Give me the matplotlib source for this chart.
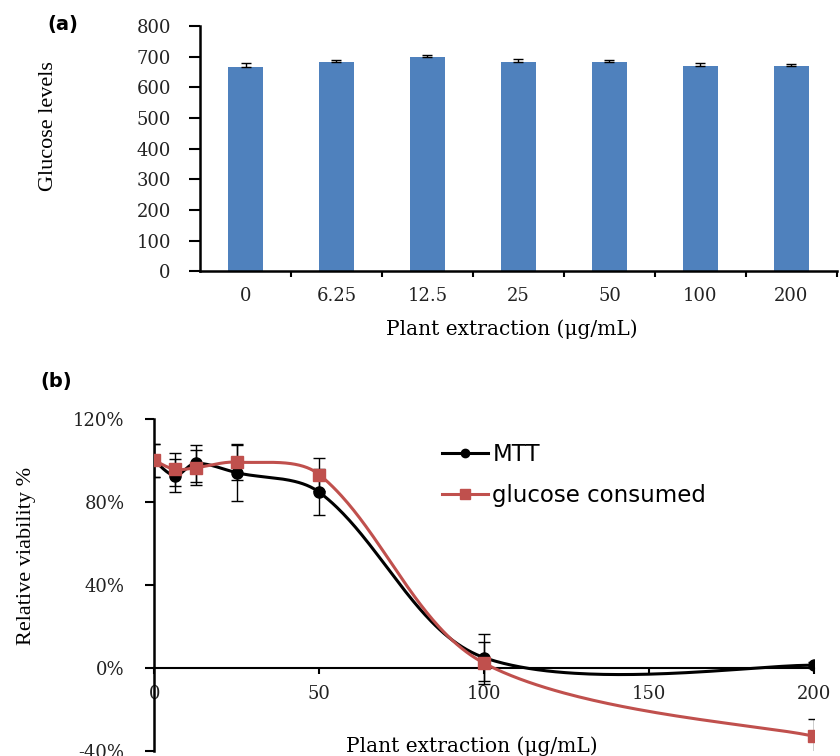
import numpy as np
import matplotlib
matplotlib.use("Agg")
import matplotlib.pyplot as plt
from matplotlib.ticker import FuncFormatter, FixedLocator
from matplotlib.lines import Line2D

plt.rcParams['axes.unicode_minus'] = False

# ---------------- data ----------------
conc_labels = ["0", "6.25", "12.5", "25", "50", "100", "200"]
glucose_levels = [665, 684, 700, 683, 683, 670, 670]
glucose_err = [16, 5, 7, 11, 5, 10, 6]

conc = [0, 6.25, 12.5, 25, 50, 100, 200]
mtt = [100, 92.7, 98.6, 94.1, 84.7, 5.0, 1.3]
mtt_err = [8, 8, 9, 13.5, 11, 11.2, 1.5]
glu = [100, 95.7, 96.5, 99.2, 93.2, 2.3, -32.9]
glu_err = [8, 8, 8.5, 8.5, 8, 10, 8.5]

BLUE = "#4F81BD"
RED = "#C0504D"
SERIF = "DejaVu Serif"


def smooth(ax, xs, ys, n=80):
    """Excel-like smoothed line: cubic Bezier segments, tangents scaled by
    on-screen segment lengths."""
    D = np.column_stack([xs, ys]).astype(float)
    P = ax.transData.transform(D)
    m = len(P)
    seglen = np.hypot(*(P[1:] - P[:-1]).T)
    out = []
    for i in range(m - 1):
        p1, p2 = P[i], P[i + 1]
        L = seglen[i]
        if i > 0:
            c1 = p1 + (p2 - P[i - 1]) * L / (seglen[i - 1] + L) / 3.0
        else:
            c1 = p1 + (p2 - p1) / 6.0
        if i + 2 < m:
            c2 = p2 - (P[i + 2] - p1) * L / (L + seglen[i + 1]) / 3.0
        else:
            c2 = p2 - (p2 - p1) / 6.0
        t = np.linspace(0, 1, n)[:, None]
        seg = ((1 - t) ** 3) * p1 + 3 * ((1 - t) ** 2) * t * c1 + 3 * (1 - t) * t ** 2 * c2 + t ** 3 * p2
        out.append(seg if i == 0 else seg[1:])
    out = ax.transData.inverted().transform(np.vstack(out))
    return out[:, 0], out[:, 1]


fig = plt.figure(figsize=(8.4, 7.56), dpi=100)

# ---------------- panel (a) ----------------
axa = fig.add_axes([0.2381, 0.6409, 0.7583, 0.3247])
xpos = np.arange(len(conc_labels))
axa.bar(xpos, glucose_levels, width=0.39, color=BLUE, zorder=2)
axa.errorbar(xpos, glucose_levels, yerr=[np.zeros(len(glucose_err)), glucose_err],
             fmt='none', ecolor='black', elinewidth=1.0, capsize=3.8, capthick=1.0, zorder=3)
axa.set_xlim(-0.5, len(conc_labels) - 0.5)
axa.set_ylim(0, 800)
axa.set_yticks(np.arange(0, 801, 100))
axa.set_xticks(xpos)
axa.set_xticklabels(conc_labels)
axa.xaxis.set_minor_locator(FixedLocator(np.arange(0.5, len(conc_labels), 1.0)))
for s in ['top', 'right']:
    axa.spines[s].set_visible(False)
for s in ['left', 'bottom']:
    axa.spines[s].set_linewidth(1.8)
axa.tick_params(axis='y', which='major', direction='out', length=8, width=1.5, pad=13,
                labelsize=13, labelcolor='#222222')
axa.tick_params(axis='x', which='major', length=0, pad=11, labelsize=13, labelcolor='#222222')
axa.tick_params(axis='x', which='minor', direction='out', length=4, width=1.5)
for lab in axa.get_xticklabels() + axa.get_yticklabels():
    lab.set_family(SERIF)
axa.set_ylabel("Glucose levels", family="Liberation Serif", fontsize=16, va='center')
axa.yaxis.set_label_coords(-0.2386, 0.593)
axa.set_xlabel("Plant extraction (\u03bcg/mL)", family=SERIF, fontsize=14.5, va='center')
axa.xaxis.set_label_coords(0.49, -0.234)

fig.text(0.075, 0.967, "(a)", fontsize=14, fontweight='bold', family='DejaVu Sans',
         ha='center', va='center')

# ---------------- panel (b) ----------------
axb = fig.add_axes([0.1837, 0.00661, 0.7854, 0.4392])
axb.set_xlim(0, 200)
axb.set_ylim(-40, 120)

sx, sy = smooth(axb, conc, mtt)
axb.plot(sx, sy, color='black', lw=2.2, zorder=3)
axb.errorbar(conc, mtt, yerr=mtt_err, fmt='none', ecolor='black', elinewidth=1.0,
             capsize=4, capthick=1.0, zorder=4)
axb.plot(conc, mtt, linestyle='none', marker='o', markersize=8, color='black', zorder=5)

gx, gy = smooth(axb, conc, glu)
axb.plot(gx, gy, color=RED, lw=2.2, zorder=6)
axb.errorbar(conc, glu, yerr=glu_err, fmt='none', ecolor='black', elinewidth=1.0,
             capsize=4, capthick=1.0, zorder=7)
axb.plot(conc, glu, linestyle='none', marker='s', markersize=8.5, color=RED, zorder=8)

for s in ['top', 'right']:
    axb.spines[s].set_visible(False)
axb.spines['bottom'].set_position(('data', 0))
axb.spines['left'].set_linewidth(1.8)
axb.spines['bottom'].set_linewidth(1.5)
axb.set_yticks([-40, 0, 40, 80, 120])
axb.yaxis.set_major_formatter(FuncFormatter(lambda v, p: f"{int(v)}%"))
axb.set_xticks([0, 50, 100, 150, 200])
axb.tick_params(axis='y', direction='out', length=6.5, width=1.5, pad=15, labelsize=13,
                labelcolor='#222222')
axb.tick_params(axis='x', direction='out', length=4, width=1.5, pad=8, labelsize=13,
                labelcolor='#222222')
for lab in axb.get_xticklabels() + axb.get_yticklabels():
    lab.set_family(SERIF)
axb.set_ylabel("Relative viability %", family="Liberation Serif", fontsize=16, va='center')
axb.yaxis.set_label_coords(-0.193, 0.587)
axb.text(0.4816, 0.015, "Plant extraction (\u03bcg/mL)", transform=axb.transAxes,
         family=SERIF, fontsize=14.5, ha='center', va='center')

handles = [
    Line2D([], [], color='black', lw=2.2, marker='o', markersize=6),
    Line2D([], [], color=RED, lw=2.2, marker='s', markersize=7),
]
fig.legend(handles, ["MTT", "glucose consumed"], loc='upper left',
           bbox_to_anchor=(0.526, 0.414), frameon=False, prop={'family': 'DejaVu Sans', 'size': 16.5},
           handlelength=2.0, handletextpad=0.2, labelspacing=0.8, borderpad=0, borderaxespad=0)

fig.text(0.0667, 0.496, "(b)", fontsize=14, fontweight='bold', family='DejaVu Sans',
         ha='center', va='center')

fig.savefig("out.png", dpi=100)
